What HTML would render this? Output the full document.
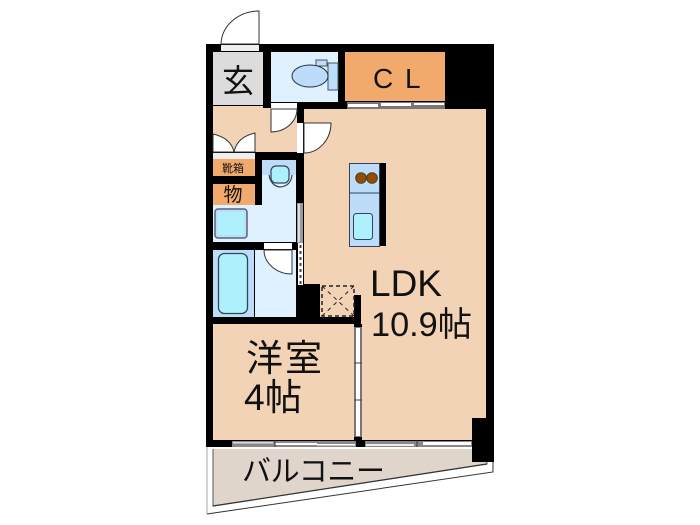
<!DOCTYPE html>
<html><head><meta charset="utf-8"><style>html,body{margin:0;padding:0;background:#fff}svg{display:block;filter:blur(0.35px)}text{fill:#111;font-family:"Liberation Sans","Noto Sans CJK JP",sans-serif}</style></head><body>
<svg width="700" height="525" viewBox="0 0 700 525" xmlns="http://www.w3.org/2000/svg">
<rect width="700" height="525" fill="#fff"/>
<!-- balcony -->
<polygon points="207,447 493,447 493,472 207,514" fill="#fff"/>
<path d="M207,447V514" stroke="#aaa" stroke-width="1" fill="none"/>
<path d="M207,514L493,472V447" stroke="#333" stroke-width="1" fill="none"/>
<polygon points="213,449 487,449 487,464 213,506" fill="#e0d5cb"/>
<path d="M213,449V506L487,464V449" stroke="#555" stroke-width="1" fill="none"/>
<path d="M213,506L487,464" stroke="#333" stroke-width="1.200" fill="none"/>
<!-- room fills -->
<rect x="206" y="44" width="288" height="403" fill="#000"/>
<rect x="472" y="418" width="22" height="44" fill="#000"/>
<rect x="213" y="52" width="50" height="53" fill="#dcdcdc"/>
<rect x="271" y="52" width="67" height="50" fill="#dff0ff"/>
<rect x="345" y="52" width="100" height="49" fill="#f2a96c"/>
<polygon points="213,106 263,106 263,108 271,108 271,109 297,109 297,152 213,152" fill="#f3d3b6"/>
<polygon points="304,109 486,109 486,418 472,418 472,440 362,440 362,324 361,324 361,295 354,295 354,317 320,317 320,284 304,284" fill="#f3d3b6"/>
<rect x="213" y="324" width="141" height="116" fill="#f3d3b6"/>
<rect x="213" y="159" width="42" height="17" fill="#f2a96c"/>
<rect x="213" y="184" width="42" height="21" fill="#f2a96c"/>
<polygon points="262,160 296,160 296,242 213,242 213,205 262,205" fill="#dff0ff"/>
<rect x="262" y="160" width="34" height="15" fill="#bddcfa"/>
<rect x="213" y="250" width="41" height="67" fill="#bddcfa"/>
<rect x="255" y="250" width="41" height="67" fill="#dff0ff"/>
<!-- dashed box -->
<rect x="322" y="286" width="32" height="30" fill="#f3d3b6" stroke="#222" stroke-width="1.500" stroke-dasharray="4 3"/>
<path d="M322,286L354,316M354,286L322,316" stroke="#222" stroke-width="1" stroke-dasharray="4 4" fill="none"/>
<!-- toilet -->
<rect x="328" y="63" width="10" height="27" fill="#bddcfa" stroke="#456" stroke-width="1"/>
<rect x="316" y="60" width="11" height="6" fill="#bddcfa" stroke="#456" stroke-width="1"/>
<ellipse cx="310" cy="76" rx="18" ry="11" fill="#bddcfa" stroke="#234" stroke-width="1"/>
<!-- wash toilet -->
<path d="M269,175 Q271,186 280,187 Q291,186 292,175" fill="#dff0ff" stroke="#345" stroke-width="1.200"/>
<rect x="271" y="166" width="18" height="17" rx="5" fill="#aef0fb" stroke="#345" stroke-width="1.200"/>
<!-- basin and tub -->
<rect x="215" y="209" width="32" height="29" rx="3" fill="#bddcfa" stroke="#567" stroke-width="1.500"/>
<rect x="218" y="212" width="26" height="23" fill="#aef0fb"/>
<rect x="218.500" y="253.500" width="29" height="60" rx="6" fill="#aef0fb" stroke="#345" stroke-width="1.300"/>
<!-- kitchen -->
<rect x="379" y="163" width="7" height="83" fill="#000"/>
<rect x="349.500" y="163.500" width="30" height="83" fill="#bddcfa" stroke="#345" stroke-width="1"/>
<line x1="349" y1="193" x2="379" y2="193" stroke="#345" stroke-width="1"/>
<circle cx="361" cy="178" r="5.300" fill="#964b00" stroke="#442" stroke-width="1"/>
<circle cx="372" cy="178" r="5.300" fill="#964b00" stroke="#442" stroke-width="1"/>
<rect x="353.500" y="213.500" width="19" height="26" rx="3" fill="#aef0fb" stroke="#345" stroke-width="1"/>
<!-- entrance door -->
<path d="M221,44 A38,34 0 0 1 259,11 L259,44 Z" fill="#fff" stroke="#333" stroke-width="1"/>
<rect x="221" y="45" width="38" height="6" fill="#eee"/>
<!-- hall door -->
<rect x="271" y="103" width="26" height="6" fill="#fff"/>
<path d="M271,109 L271,132 A26,23 0 0 0 297,109 Z" fill="#fff" stroke="#333" stroke-width="1"/>
<!-- LDK door -->
<rect x="297" y="123" width="6" height="30" fill="#fff"/>
<path d="M304,123 L331,123 A27,30 0 0 1 304,153 Z" fill="#fff" stroke="#333" stroke-width="1"/>
<!-- shoe doors -->
<rect x="213" y="153" width="42" height="6" fill="#eee"/>
<path d="M213,152 L213,134 Q231,138 234,152 Z M255,152 L255,133 Q237,137 234,152 Z" fill="#fff" stroke="#333" stroke-width="1"/>
<!-- bath door -->
<rect x="264" y="243" width="28" height="6" fill="#fff"/>
<path d="M292,250 L292,274 A28,24 0 0 1 264,250 Z" fill="#fff" stroke="#333" stroke-width="1"/>
<!-- CL door -->
<rect x="347" y="102" width="98" height="7" fill="#777"/>
<rect x="348" y="104" width="30" height="3" fill="#fff"/>
<rect x="381" y="103" width="30" height="3" fill="#fff"/>
<rect x="414" y="103" width="30" height="2" fill="#fff"/>
<!-- sliding LDK side -->
<rect x="297" y="203" width="6" height="40" fill="#999"/>
<rect x="298" y="204" width="2" height="38" fill="#ddd"/>
<rect x="298" y="243" width="5" height="42" fill="#fff"/>
<path d="M300.500,245V285" stroke="#444" stroke-width="2" stroke-dasharray="3 3" fill="none"/>
<!-- room door sliding -->
<rect x="354" y="327" width="8" height="110" fill="#777"/>
<rect x="356" y="328" width="4" height="108" fill="#fff"/>
<path d="M354,363h8M354,400h8" stroke="#444" stroke-width="1"/>
<!-- south windows -->
<rect x="232" y="441" width="124" height="6" fill="#888"/>
<rect x="233" y="442" width="40" height="1.500" fill="#ddd"/>
<rect x="275" y="443" width="42" height="2" fill="#fff"/>
<rect x="317" y="444" width="38" height="1.500" fill="#fff"/>
<line x1="275" y1="440" x2="275" y2="447" stroke="#333"/>
<rect x="365" y="441" width="107" height="6" fill="#888"/>
<rect x="366" y="444" width="48" height="2" fill="#eee"/>
<rect x="423" y="442" width="48" height="3" fill="#fff"/>
<line x1="417" y1="440" x2="417" y2="447" stroke="#333"/>
<!-- text -->
<text x="238" y="92" font-size="32" text-anchor="middle">玄</text>
<text x="373" y="88" font-size="28">C</text>
<text x="405" y="88" font-size="28">L</text>
<text x="233" y="172" font-size="11" text-anchor="middle">靴箱</text>
<text x="233" y="201" font-size="19" text-anchor="middle">物</text>
<text x="370" y="296" font-size="37">LDK</text>
<text x="371" y="336" font-size="34" textLength="101" lengthAdjust="spacingAndGlyphs">10.9帖</text>
<text x="246" y="371" font-size="37" textLength="76">洋室</text>
<text x="244" y="410" font-size="37" textLength="58" lengthAdjust="spacingAndGlyphs">4帖</text>
<text x="242" y="481" font-size="29" textLength="143">バルコニー</text>
</svg>
</body></html>
